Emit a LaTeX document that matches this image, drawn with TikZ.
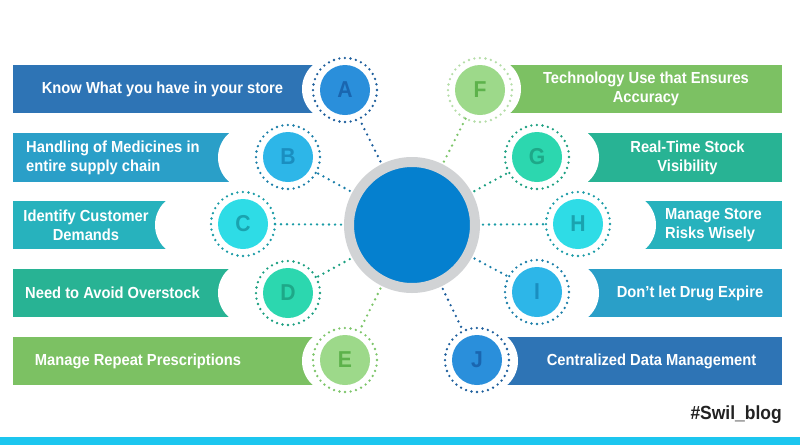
\documentclass[tikz,border=0pt]{standalone}
\usepackage{fontspec}
\setmainfont{Liberation Sans}[FakeStretch=0.92]

\definecolor{hubblue}{HTML}{0580CF}
\definecolor{hubring}{HTML}{D1D3D5}
\definecolor{navybar}{HTML}{2E74B5}
\definecolor{navyfill}{HTML}{2A8FDB}
\definecolor{navyletter}{HTML}{1A66B0}
\definecolor{navydot}{HTML}{1D5E9C}
\definecolor{skybar}{HTML}{2A9FC8}
\definecolor{skyfill}{HTML}{2DB6E8}
\definecolor{skyletter}{HTML}{1A8EC0}
\definecolor{skydot}{HTML}{1A7EA8}
\definecolor{aquabar}{HTML}{27B2BD}
\definecolor{aquafill}{HTML}{2EDCE6}
\definecolor{aqualetter}{HTML}{1AA3AF}
\definecolor{aquadot}{HTML}{1A9BA6}
\definecolor{mintbar}{HTML}{28B394}
\definecolor{mintfill}{HTML}{2CD7AF}
\definecolor{mintletter}{HTML}{1EA888}
\definecolor{mintdot}{HTML}{1B9F80}
\definecolor{leafbar}{HTML}{7CC163}
\definecolor{leaffill}{HTML}{9DD98A}
\definecolor{leafletter}{HTML}{5DB24B}
\definecolor{leafdot}{HTML}{7DC56A}
\definecolor{paledot}{HTML}{B5DDA8}
\definecolor{tagdark}{HTML}{222222}
\definecolor{bandcyan}{HTML}{1CC6EF}

\begin{document}
\begin{tikzpicture}[x=1pt, y=-1pt,
    bartext/.style = {text=white, align=center, inner sep=0pt,
                      font=\bfseries\fontsize{16}{19}\selectfont},
    letter/.style  = {circle, inner sep=0pt, outer sep=0pt, minimum size=50pt,
                      font=\bfseries\fontsize{23}{23}\selectfont},
    hubn/.style    = {circle, fill=hubblue, draw=hubring, line width=10pt,
                      minimum size=126pt, inner sep=0pt},
    dotring/.style = {line width=2.6pt, line cap=round,
                      dash pattern=on 0pt off 5.58pt},
    link/.style    = {line width=2.6pt, line cap=round,
                      dash pattern=on 0pt off 6pt, shorten >=7pt, shorten <=3pt},
    cut/.style     = {fill=white}]

    \useasboundingbox (0,0) rectangle (800,445);

    % Bars with their round notches
    \fill[navybar] (13,65)  rectangle (334,113); \fill[cut] (334,89)    circle[radius=32];
    \fill[skybar]  (13,133) rectangle (250,182); \fill[cut] (250,157.5) circle[radius=32];
    \fill[aquabar] (13,201) rectangle (187,249); \fill[cut] (187,225)   circle[radius=32];
    \fill[mintbar] (13,269) rectangle (250,317); \fill[cut] (250,293)   circle[radius=32];
    \fill[leafbar] (13,337) rectangle (334,385); \fill[cut] (334,361)   circle[radius=32];
    \fill[leafbar] (489,65)  rectangle (782,113); \fill[cut] (489,89)    circle[radius=32];
    \fill[mintbar] (567,133) rectangle (782,182); \fill[cut] (567,157.5) circle[radius=32];
    \fill[aquabar] (624,201) rectangle (782,249); \fill[cut] (624,225)   circle[radius=32];
    \fill[skybar]  (567,269) rectangle (782,317); \fill[cut] (567,293)   circle[radius=32];
    \fill[navybar] (486,337) rectangle (782,385); \fill[cut] (486,361)   circle[radius=32];

    % Bar texts
    \node[bartext] (tA) at (162.5,89) {Know What you have in your store};
    \node[bartext, anchor=west, align=left] (tB) at (26,157.5) {Handling of Medicines in\\entire supply chain};
    \node[bartext] (tC) at (86,225) {Identify Customer\\Demands};
    \node[bartext] (tD) at (112.5,293) {Need to Avoid Overstock};
    \node[bartext] (tE) at (138,361) {Manage Repeat Prescriptions};
    \node[bartext] (tF) at (646,89) {Technology Use that Ensures\\Accuracy};
    \node[bartext] (tG) at (687.5,157.5) {Real-Time Stock\\Visibility};
    \node[bartext, anchor=west, align=left] (tH) at (665,225) {Manage Store\\Risks Wisely};
    \node[bartext] (tI) at (690,293) {Don’t let Drug Expire};
    \node[bartext] (tJ) at (651.5,361) {Centralized Data Management};

    % Hub and letter circles
    \node[hubn] (hub) at (412,225) {};
    \node[letter, fill=navyfill, text=navyletter] (A) at (345,90)  {A};
    \node[letter, fill=skyfill,  text=skyletter]  (B) at (288,157) {B};
    \node[letter, fill=aquafill, text=aqualetter] (C) at (243,224) {C};
    \node[letter, fill=mintfill, text=mintletter] (D) at (288,293) {D};
    \node[letter, fill=leaffill, text=leafletter] (E) at (345,360) {E};
    \node[letter, fill=leaffill, text=leafletter] (F) at (480,90)  {F};
    \node[letter, fill=mintfill, text=mintletter] (G) at (537,157) {G};
    \node[letter, fill=aquafill, text=aqualetter] (H) at (578,224) {H};
    \node[letter, fill=skyfill,  text=skyletter]  (I) at (537,292) {I};
    \node[letter, fill=navyfill, text=navyletter] (J) at (477,360) {J};

    \draw[dotring, navydot] (A) circle[radius=32];
    \draw[dotring, skydot]  (B) circle[radius=32];
    \draw[dotring, aquadot] (C) circle[radius=32];
    \draw[dotring, mintdot] (D) circle[radius=32];
    \draw[dotring, leafdot] (E) circle[radius=32];
    \draw[dotring, paledot] (F) circle[radius=32];
    \draw[dotring, mintdot] (G) circle[radius=32];
    \draw[dotring, aquadot] (H) circle[radius=32];
    \draw[dotring, skydot]  (I) circle[radius=32];
    \draw[dotring, navydot] (J) circle[radius=32];

    % Dotted links
    \draw[link, navydot] (hub) -- (A);
    \draw[link, skydot]  (hub) -- (B);
    \draw[link, aquadot] (hub) -- (C);
    \draw[link, mintdot] (hub) -- (D);
    \draw[link, leafdot] (hub) -- (E);
    \draw[link, leafdot] (hub) -- (F);
    \draw[link, mintdot] (hub) -- (G);
    \draw[link, aquadot] (hub) -- (H);
    \draw[link, skydot]  (hub) -- (I);
    \draw[link, navydot] (hub) -- (J);

    % Footer
    \node[anchor=base east, inner sep=0pt, text=tagdark,
          font=\bfseries\fontsize{19}{19}\selectfont] (tag) at (782,419) {\#Swil\_blog};
    \fill[bandcyan] (0,437) rectangle (800,445);
\end{tikzpicture}
\end{document}
